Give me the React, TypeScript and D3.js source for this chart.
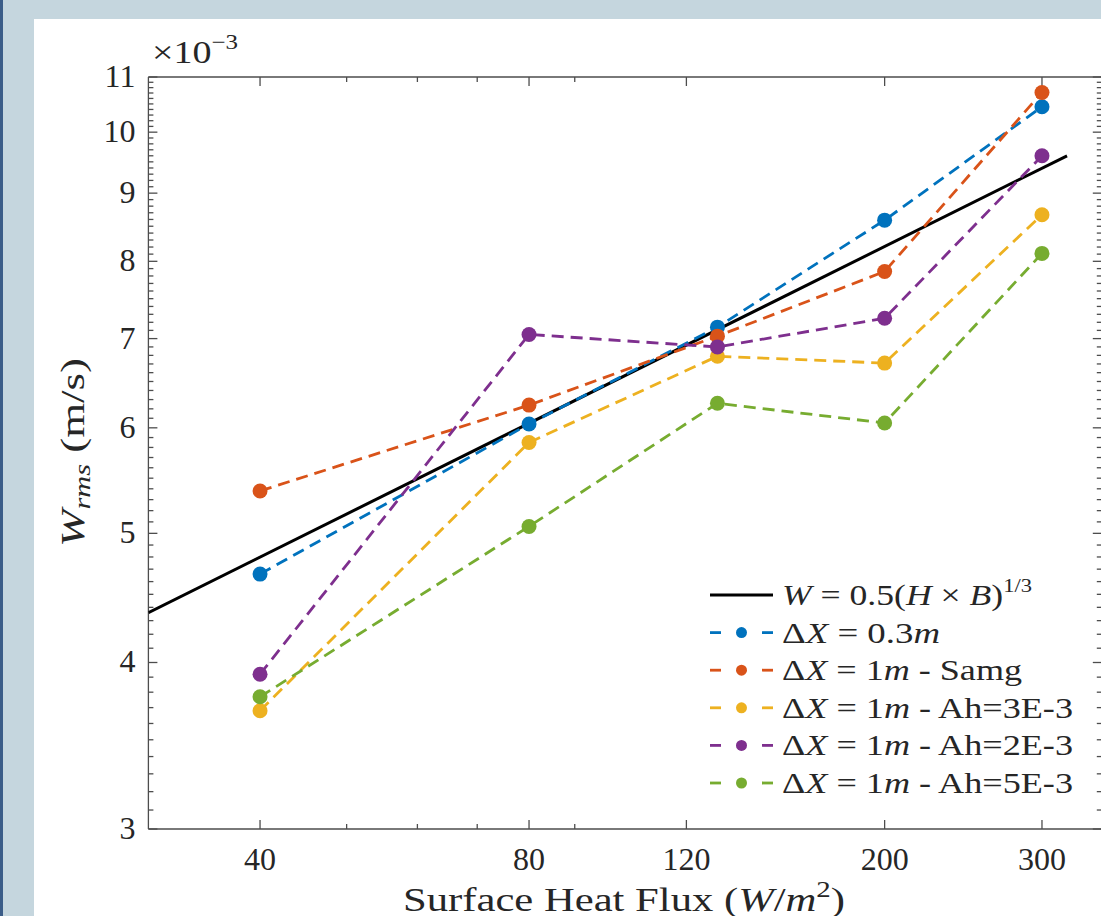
import React from 'react';
import * as d3 from 'd3';

// ---- data (W_rms in units of 1e-3 m/s) ----
const fluxes = [40, 80, 130, 200, 300];
const dx03 = [4.66, 6.04, 7.14, 8.59, 10.45];
const samg = [5.38, 6.24, 7.03, 7.86, 10.71];
const ah3 = [3.68, 5.85, 6.79, 6.71, 8.67];
const ah2 = [3.92, 7.05, 6.9, 7.25, 9.6];
const ah5 = [3.77, 5.06, 6.26, 6.05, 8.11];
const seriesColors = ['#0072BD', '#D95319', '#EDB120', '#7E2F8E', '#77AC30'];
const fitFlux = [30, 320];
const fitW = [4.36, 9.6];

const xMajorTicks = [40, 80, 120, 200, 300];
const xMinorTicks = [50, 60, 70, 90];
const yMajorTicks = [3, 4, 5, 6, 7, 8, 9, 10, 11];

const W = 1101;
const H = 916;
const FONT = "'Liberation Serif', 'Times New Roman', serif";
const TEXT = '#262626';
const AXIS = '#4d4d4d';

export default function App() {
  const left = 148.4;
  const right = 1101.8;
  const top = 77;
  const bottom = 829;
  const x = d3.scaleLog().domain([30, 350]).range([left, right]);
  const y = d3.scaleLog().domain([3, 11]).range([bottom, top]);

  const yMinor = d3
    .range(30, 111)
    .filter((v) => v % 10 !== 0)
    .map((v) => v / 10);

  const line = d3
    .line<[number, number]>()
    .x((d) => x(d[0]))
    .y((d) => y(d[1]));

  const series = [dx03, samg, ah3, ah2, ah5];
  const fitPts: [number, number][] = fitFlux.map((f, i) => [f, fitW[i]]);

  const majorLen = 9;
  const minorLen = 5;

  const legendX0 = 710;
  const legendX1 = 773;
  const legendTextX = 782;
  const legendY0 = 595;
  const legendStep = 37.6;
  const legendWidths = [250, 158, 240, 291, 291, 291];

  const legendLabels = [
    <>
      <tspan fontStyle="italic">W</tspan>
      <tspan> = 0.5(</tspan>
      <tspan fontStyle="italic">H</tspan>
      <tspan> × </tspan>
      <tspan fontStyle="italic">B</tspan>
      <tspan>)</tspan>
      <tspan fontSize={19} dy={-13}>1/3</tspan>
    </>,
    <>
      <tspan>Δ</tspan>
      <tspan fontStyle="italic">X</tspan>
      <tspan> = 0.3</tspan>
      <tspan fontStyle="italic">m</tspan>
    </>,
    <>
      <tspan>Δ</tspan>
      <tspan fontStyle="italic">X</tspan>
      <tspan> = 1</tspan>
      <tspan fontStyle="italic">m</tspan>
      <tspan> - Samg</tspan>
    </>,
    <>
      <tspan>Δ</tspan>
      <tspan fontStyle="italic">X</tspan>
      <tspan> = 1</tspan>
      <tspan fontStyle="italic">m</tspan>
      <tspan> - Ah=3E-3</tspan>
    </>,
    <>
      <tspan>Δ</tspan>
      <tspan fontStyle="italic">X</tspan>
      <tspan> = 1</tspan>
      <tspan fontStyle="italic">m</tspan>
      <tspan> - Ah=2E-3</tspan>
    </>,
    <>
      <tspan>Δ</tspan>
      <tspan fontStyle="italic">X</tspan>
      <tspan> = 1</tspan>
      <tspan fontStyle="italic">m</tspan>
      <tspan> - Ah=5E-3</tspan>
    </>,
  ];

  return (
    <div style={{ position: 'absolute', left: 0, top: 0 }}>
      <svg width={W} height={H} style={{ display: 'block' }} fontFamily={FONT}>
        <rect x={0} y={0} width={W} height={H} fill="#c5d6de" />
        <rect x={0} y={0} width={3} height={H} fill="#3b5d88" />
        <rect x={34} y={19} width={W - 34} height={H - 19} fill="#ffffff" />

        <defs>
          <clipPath id="plotClip">
            <rect x={left} y={top} width={right - left} height={bottom - top} />
          </clipPath>
        </defs>

        {/* axes box */}
        <g stroke={AXIS} strokeWidth={1.3} fill="none">
          <line x1={left} x2={right} y1={bottom} y2={bottom} />
          <line x1={left} x2={right} y1={top} y2={top} />
          <line x1={left} x2={left} y1={top} y2={bottom} />
          <line x1={right} x2={right} y1={top} y2={bottom} />
          {xMajorTicks.map((t) => (
            <g key={'xM' + t}>
              <line x1={x(t)} x2={x(t)} y1={bottom} y2={bottom - majorLen} />
              <line x1={x(t)} x2={x(t)} y1={top} y2={top + majorLen} />
            </g>
          ))}
          {xMinorTicks.map((t) => (
            <g key={'xm' + t}>
              <line x1={x(t)} x2={x(t)} y1={bottom} y2={bottom - minorLen} />
              <line x1={x(t)} x2={x(t)} y1={top} y2={top + minorLen} />
            </g>
          ))}
          {yMajorTicks.map((t) => (
            <g key={'yM' + t}>
              <line x1={left} x2={left + majorLen} y1={y(t)} y2={y(t)} />
              <line x1={right} x2={right - majorLen} y1={y(t)} y2={y(t)} />
            </g>
          ))}
          {yMinor.map((t) => (
            <g key={'ym' + t}>
              <line x1={left} x2={left + minorLen} y1={y(t)} y2={y(t)} />
              <line x1={right} x2={right - minorLen} y1={y(t)} y2={y(t)} />
            </g>
          ))}
        </g>

        {/* tick labels */}
        <g fill={TEXT} fontSize={32}>
          {xMajorTicks.map((t) => (
            <text key={'xl' + t} x={x(t)} y={870} textAnchor="middle">
              {t}
            </text>
          ))}
          {yMajorTicks.map((t) => (
            <text key={'yl' + t} x={left - 13} y={y(t) + 10} textAnchor="end">
              {t}
            </text>
          ))}
        </g>

        {/* exponent */}
        <text x={152} y={63} fill={TEXT} fontSize={32} textLength={86} lengthAdjust="spacingAndGlyphs">
          ×10
          <tspan fontSize={21} dy={-14}>−3</tspan>
        </text>

        {/* axis labels */}
        <text
          x={403}
          y={911}
          fill={TEXT}
          fontSize={34}
          textLength={442}
          lengthAdjust="spacingAndGlyphs"
        >
          Surface Heat Flux (<tspan fontStyle="italic">W</tspan>/<tspan fontStyle="italic">m</tspan>
          <tspan fontSize={23} dy={-14}>2</tspan>
          <tspan dy={14}>)</tspan>
        </text>
        <text
          transform={`translate(84, 547) rotate(-90)`}
          fill={TEXT}
          fontSize={34}
          textLength={189}
          lengthAdjust="spacingAndGlyphs"
        >
          <tspan fontStyle="italic">W</tspan>
          <tspan fontStyle="italic" fontSize={23} dy={6}>rms</tspan>
          <tspan dy={-6}> (m/s)</tspan>
        </text>

        {/* data */}
        <g clipPath="url(#plotClip)">
          <path d={line(fitPts) || ''} fill="none" stroke="#000" strokeWidth={3} />
          {series.map((vals, si) => {
            const pts: [number, number][] = fluxes.map((f, i) => [f, vals[i]]);
            return (
              <g key={'s' + si}>
                <path
                  d={line(pts) || ''}
                  fill="none"
                  stroke={seriesColors[si]}
                  strokeWidth={2.8}
                  strokeDasharray="12 7"
                />
                {pts.map((p, i) => (
                  <circle key={i} cx={x(p[0])} cy={y(p[1])} r={7.5} fill={seriesColors[si]} />
                ))}
              </g>
            );
          })}
        </g>

        {/* legend */}
        <g>
          {legendLabels.map((lab, i) => {
            const cy = legendY0 + i * legendStep;
            const isFit = i === 0;
            const color = isFit ? '#000' : seriesColors[i - 1];
            return (
              <g key={'lg' + i}>
                {isFit ? (
                  <line x1={legendX0} x2={legendX1} y1={cy} y2={cy} stroke="#000" strokeWidth={3} />
                ) : (
                  <>
                    <line x1={legendX0} x2={legendX0 + 11} y1={cy} y2={cy} stroke={color} strokeWidth={2.8} />
                    <line x1={legendX1 - 11} x2={legendX1} y1={cy} y2={cy} stroke={color} strokeWidth={2.8} />
                    <circle cx={(legendX0 + legendX1) / 2} cy={cy} r={5.5} fill={color} />
                  </>
                )}
                <text
                  x={legendTextX}
                  y={cy + 10}
                  fill={TEXT}
                  fontSize={30}
                  textLength={legendWidths[i]}
                  lengthAdjust="spacingAndGlyphs"
                >
                  {lab}
                </text>
              </g>
            );
          })}
        </g>
      </svg>
    </div>
  );
}
